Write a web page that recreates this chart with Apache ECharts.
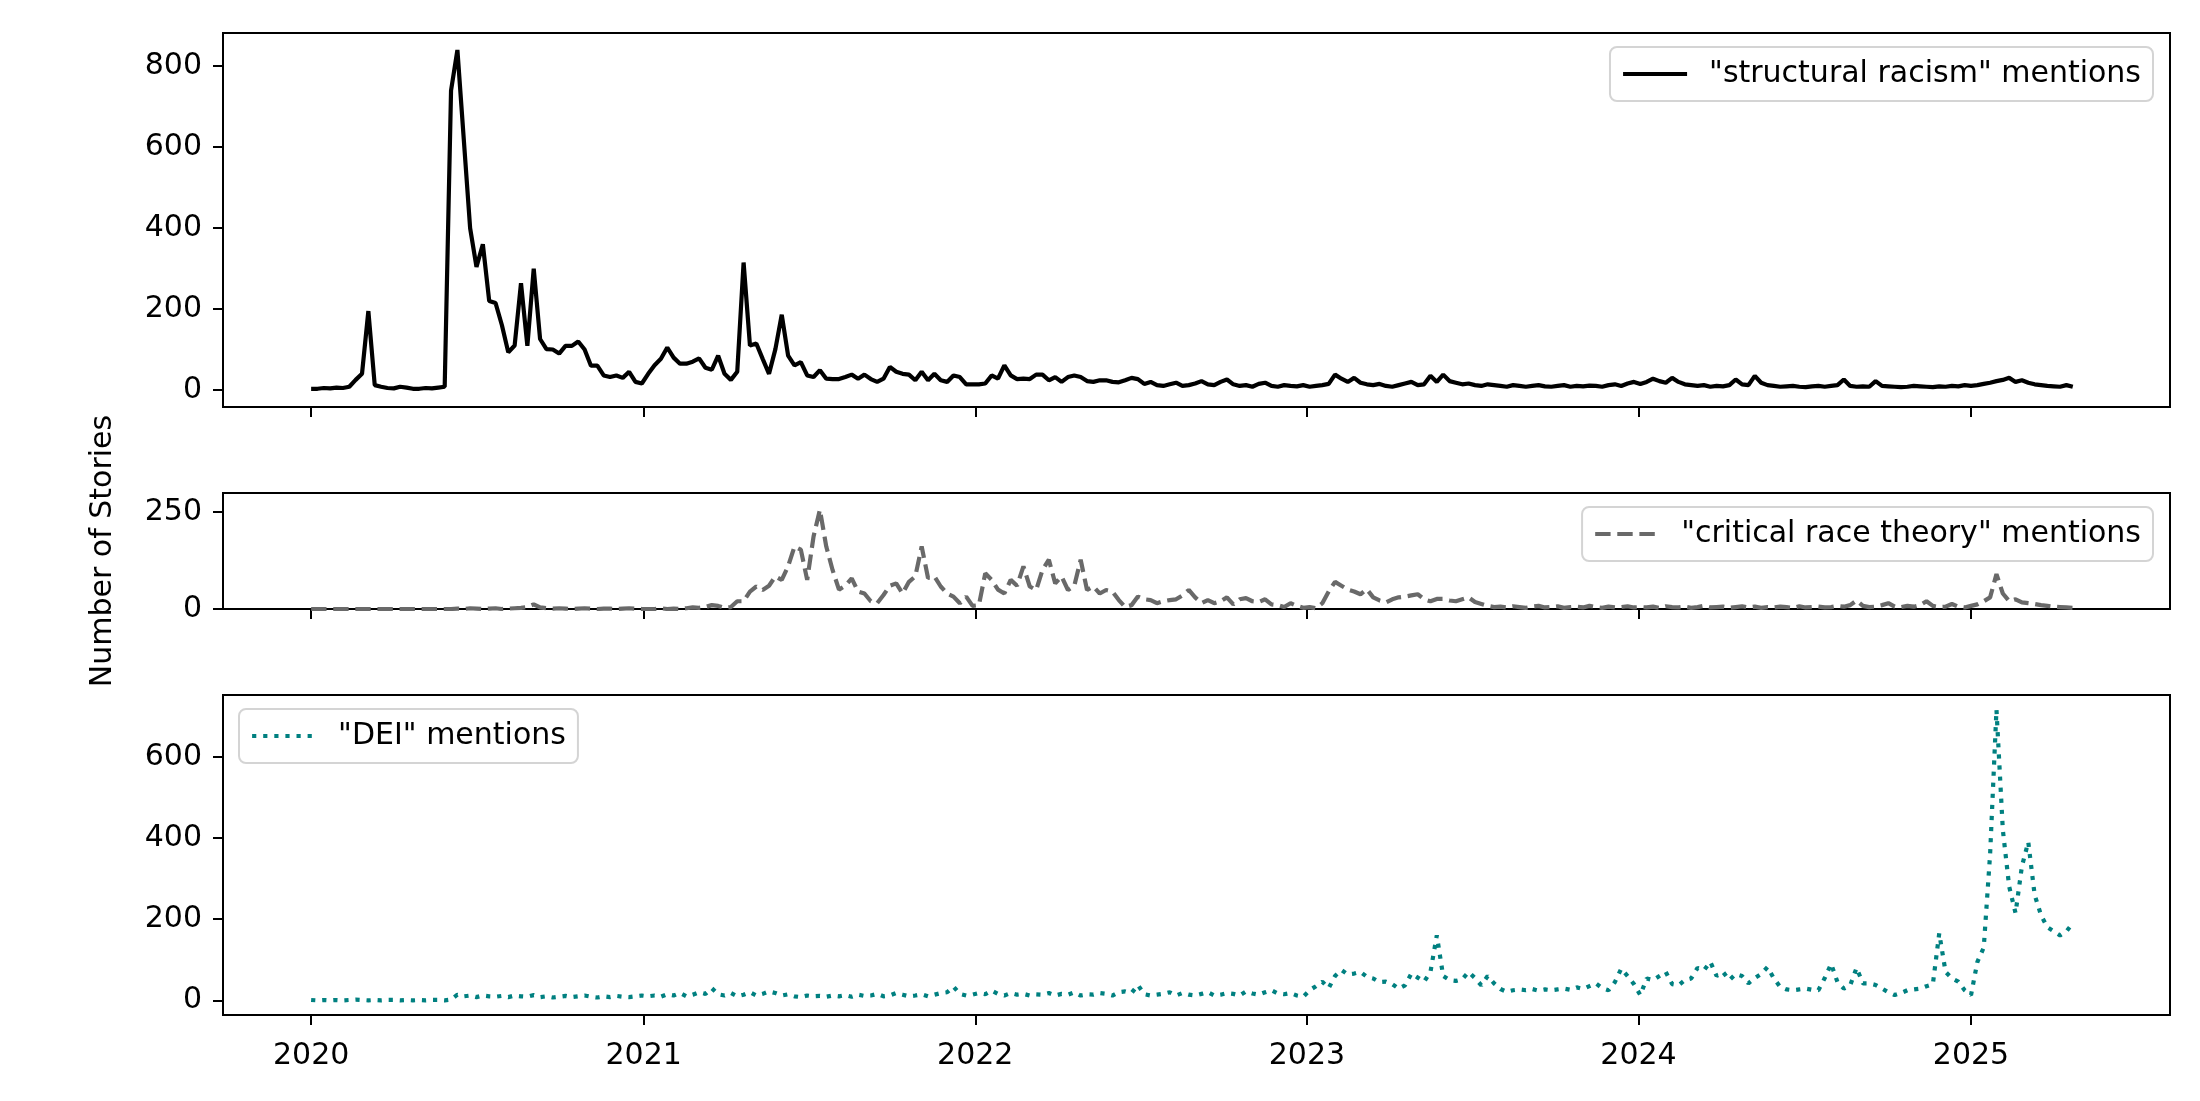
<!DOCTYPE html>
<html>
<head>
<meta charset="utf-8">
<script src="https://cdn.jsdelivr.net/npm/echarts@6/dist/echarts.min.js"></script>
<style>
  html, body { margin: 0; padding: 0; background: #fff; }
  #chart { width: 2200px; height: 1101px; }
</style>
</head>
<body>
<div id="chart"></div>
<script>
// weekly counts, first point 2020-01-01, one point every 7 days
const WEEK_START = [2020, 0, 1];
const YEAR_TICKS = [2020, 2021, 2022, 2023, 2024, 2025];

// "structural racism"
const sr2020 = [3,3,5,4,6,5,8,25,40,195, 12,8,5,4,8,6,3,3,5,4, 6,8,740,840,620,400,304,360,220,215, 160,93,110,264,109,300,126,101,100,90, 109,109,120,100,60,60,36,32,36,30, 45,20,16];
const sr2021 = [40,61,77,105,80,65,65,70,78,55, 50,85,40,25,45,315,110,115,77,40, 101,186,85,61,69,36,32,49,28,27, 27,32,38,28,38,27,20,28,57,45, 40,38,24,45,24,40,24,20,36,32, 14,14];
const sr2022 = [14,16,36,28,61,36,27,28,27,38, 38,24,32,20,32,36,32,22,20,24, 24,20,19,24,30,27,15,20,12,10, 14,18,10,12,16,22,14,12,20,26, 14,10,12,8,15,18,10,8,12,10, 9,12];
const sr2023 = [8,10,12,15,38,28,20,30,18,14, 12,15,10,8,12,16,20,12,14,35, 20,38,22,18,14,16,12,10,14,12, 10,8,12,10,8,10,12,9,8,10, 12,8,10,9,11,10,8,12,14,10, 16,20];
const sr2024 = [15,20,28,22,18,30,20,14,12,10, 12,8,10,9,12,26,14,12,35,18, 12,10,8,9,10,8,7,9,10,8, 10,12,26,10,8,9,8,22,10,9, 8,7,8,10,9,8,7,9,8,10, 9,12];
const sr2025 = [10,12,15,18,22,25,30,20,24,18, 14,12,10,9,8,12,8];

// "critical race theory"
const crt2020 = [0,0,0,0,0,0,0,0,0,0, 0,0,0,0,0,0,0,0,0,0, 0,0,0,1,0,2,1,0,1,2, 0,1,2,3,5,12,4,2,1,2, 1,0,1,2,1,0,1,1,0,1, 2,1,0];
const crt2021 = [0,0,2,0,1,0,2,4,3,5, 10,8,3,5,20,20,45,58,49,60, 84,75,110,161,153,75,187,256,161,100, 50,60,79,45,40,20,15,36,60,66, 40,70,84,161,80,84,58,40,32,15, 32,8];
const crt2022 = [10,92,75,50,40,75,60,110,58,49, 101,127,66,84,49,60,127,49,58,40, 49,45,23,5,10,32,25,23,15,20, 23,25,35,49,30,15,23,15,20,30, 12,25,28,20,18,25,12,10,5,15, 8,3];
const crt2023 = [5,2,15,45,70,60,50,45,38,51, 30,22,17,25,30,32,35,38,25,20, 26,26,22,20,25,30,18,13,8,5, 6,4,7,5,3,6,8,4,5,7, 3,5,6,4,8,5,3,6,4,5, 7,4];
const crt2024 = [5,4,6,3,7,5,4,6,3,5, 8,4,5,6,3,5,7,4,6,3, 5,4,6,5,3,7,4,5,6,4, 5,8,6,10,22,8,5,6,10,15, 6,5,8,6,10,20,8,5,6,13, 6,4];
const crt2025 = [8,12,20,30,90,40,20,25,17,15, 13,10,8,6,5,4,3];

// "DEI"
const dei2020 = [1,0,1,0,1,0,1,2,1,0, 1,0,1,1,0,1,0,1,0,1, 1,0,2,14,10,12,8,12,10,9, 11,8,12,10,9,13,8,10,7,9, 11,8,10,12,9,7,10,8,11,9, 8,10,12];
const dei2021 = [10,12,9,15,12,18,10,14,20,16, 30,15,12,18,10,14,20,12,16,22, 18,12,15,10,8,12,10,11,9,12, 10,13,9,14,11,12,16,10,12,18, 14,10,12,15,10,14,18,20,34,16, 12,14];
const dei2022 = [18,15,24,16,12,18,14,16,12,15, 14,18,12,16,14,20,12,15,14,18, 16,12,20,22,18,38,15,12,14,16, 20,12,18,14,12,16,20,12,14,18, 16,12,22,17,14,20,25,17,15,18, 12,9];
const dei2023 = [25,35,46,30,60,75,64,66,70,58, 54,45,46,40,29,37,66,56,46,70, 160,60,50,48,52,70,55,37,60,42, 28,21,25,27,25,28,24,27,25,27, 29,26,32,28,35,42,30,25,45,78, 60,40];
const dei2024 = [13,54,50,60,70,40,37,50,54,80, 74,95,60,70,50,65,60,42,55,65, 82,54,33,27,25,27,29,26,25,55, 90,45,29,37,80,42,42,38,29,20, 13,18,25,27,29,35,40,165,70,54, 46,25];
const dei2025 = [13,95,130,360,716,420,280,215,330,390, 260,210,180,170,160,170,190];

const srVals = [].concat(sr2020, sr2021, sr2022, sr2023, sr2024, sr2025);
const crtVals = [].concat(crt2020, crt2021, crt2022, crt2023, crt2024, crt2025);
const deiVals = [].concat(dei2020, dei2021, dei2022, dei2023, dei2024, dei2025);

function weekTime(i) {
  return new Date(WEEK_START[0], WEEK_START[1], WEEK_START[2] + 7 * i).getTime();
}
function toPairs(vals) {
  return vals.map((v, i) => [weekTime(i), v]);
}

const FONT = 'DejaVu Sans';
const FS = 30;
const LW = 4.2;
const xMin = new Date(2019, 8, 26).getTime();
const xMax = new Date(2025, 7, 8).getTime();
const yearTicks = YEAR_TICKS.map(y => new Date(y, 0, 1).getTime());

const grids = [
  { left: 223, top: 33, width: 1947, height: 374 },
  { left: 223, top: 493, width: 1947, height: 116 },
  { left: 223, top: 695, width: 1947, height: 320 }
].map(g => Object.assign(g, {
  show: true, borderColor: '#000', borderWidth: 2, backgroundColor: 'transparent',
  containLabel: false, outerBoundsMode: 'none'
}));

// x: value axis holding timestamps, ticks on 1 January of each year
function xAxisFor(idx, showLabel) {
  return {
    type: 'value', gridIndex: idx, min: xMin, max: xMax,
    axisLine: { show: true, onZero: false, lineStyle: { color: '#000', width: 2 } },
    axisTick: { show: true, length: 10, customValues: yearTicks, lineStyle: { color: '#000', width: 2 } },
    axisLabel: {
      show: showLabel, customValues: yearTicks, margin: 26,
      fontFamily: FONT, fontSize: FS, color: '#000',
      formatter: v => String(new Date(v).getFullYear())
    },
    splitLine: { show: false }
  };
}
function yAxisFor(idx, min, max, ticks) {
  return {
    type: 'value', gridIndex: idx, min: min, max: max,
    axisLine: { show: true, onZero: false, lineStyle: { color: '#000', width: 2 } },
    axisTick: { show: true, length: 10, customValues: ticks, lineStyle: { color: '#000', width: 2 } },
    axisLabel: { customValues: ticks, margin: 21, fontFamily: FONT, fontSize: FS, color: '#000' },
    splitLine: { show: false }
  };
}

const SR_NAME = '"structural racism" mentions';
const CRT_NAME = '"critical race theory" mentions';
const DEI_NAME = '"DEI" mentions';

function legendFor(name, pos, lineStyle) {
  return Object.assign({
    data: [name],
    orient: 'horizontal',
    padding: [12, 12, 12, 11],
    itemWidth: 64, itemHeight: 30,
    borderColor: '#d4d4d4', borderWidth: 2, borderRadius: 7,
    backgroundColor: 'rgba(255,255,255,0.8)',
    selectedMode: false,
    lineStyle: lineStyle,
    itemStyle: { opacity: 0 },
    textStyle: { fontFamily: FONT, fontSize: FS, color: '#000', padding: [0, 0, 0, 17] }
  }, pos);
}

const chart = echarts.init(document.getElementById('chart'), null, { renderer: 'canvas' });
chart.setOption({
  animation: false,
  backgroundColor: '#fff',
  grid: grids,
  xAxis: [xAxisFor(0, false), xAxisFor(1, false), xAxisFor(2, true)],
  yAxis: [
    yAxisFor(0, -42, 882, [0, 200, 400, 600, 800]),
    yAxisFor(1, 0, 299, [0, 250]),
    yAxisFor(2, -36, 752, [0, 200, 400, 600])
  ],
  legend: [
    legendFor(SR_NAME, { right: 47, top: 47 }, { color: '#000', width: LW, type: 'solid' }),
    legendFor(CRT_NAME, { right: 47, top: 507 }, { color: '#696969', width: LW, type: [15.4, 6.7] }),
    legendFor(DEI_NAME, { left: 239, top: 709 }, { color: '#008080', width: LW, type: [4.2, 6.9] })
  ],
  graphic: [{
    type: 'text', x: 103, y: 551, rotation: Math.PI / 2,
    style: {
      text: 'Number of Stories', font: FS + 'px "' + FONT + '"', fill: '#000',
      align: 'center', verticalAlign: 'middle'
    }
  }],
  series: [
    {
      name: SR_NAME, type: 'line', xAxisIndex: 0, yAxisIndex: 0,
      data: toPairs(srVals), symbol: 'none', showSymbol: false,
      lineStyle: { color: '#000', width: LW }, itemStyle: { color: '#000' }
    },
    {
      name: CRT_NAME, type: 'line', xAxisIndex: 1, yAxisIndex: 1,
      data: toPairs(crtVals), symbol: 'none', showSymbol: false,
      lineStyle: { color: '#696969', width: LW, type: [15.4, 6.7] }, itemStyle: { color: '#696969' }
    },
    {
      name: DEI_NAME, type: 'line', xAxisIndex: 2, yAxisIndex: 2,
      data: toPairs(deiVals), symbol: 'none', showSymbol: false,
      lineStyle: { color: '#008080', width: LW, type: [4.2, 6.9] }, itemStyle: { color: '#008080' }
    }
  ]
});
</script>
</body>
</html>
